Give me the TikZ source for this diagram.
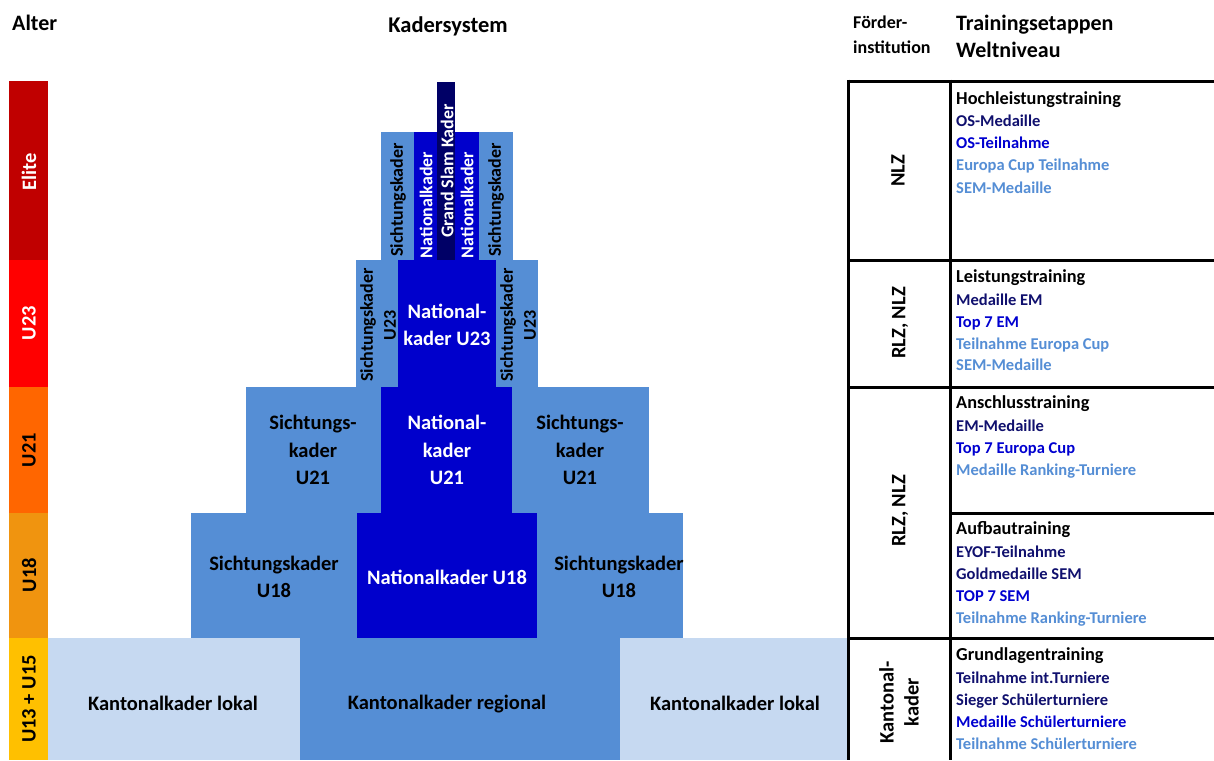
\documentclass[tikz,border=0pt]{standalone}
\usepackage{fontspec}
\setmainfont{Carlito}
\definecolor{midblue}{HTML}{558ED5}
\definecolor{natblue}{HTML}{0000CC}
\definecolor{gsnavy}{HTML}{000066}
\definecolor{lightblue}{HTML}{C6D9F1}
\definecolor{txnavy}{HTML}{10106E}
\definecolor{txblue}{HTML}{0000D0}
\definecolor{txlight}{HTML}{558ED5}
\definecolor{ageelite}{HTML}{C00000}
\definecolor{ageutt}{HTML}{FF0000}
\definecolor{ageuto}{HTML}{FF6600}
\definecolor{ageuoe}{HTML}{F0940F}
\definecolor{ageuot}{HTML}{FFC000}
\tikzset{
  pyr/.style={font=\fontsize{20.5}{27.5}\selectfont\bfseries, align=center, inner sep=0pt},
  vert/.style={font=\fontsize{18}{23}\selectfont\bfseries, rotate=90, align=center, inner sep=0pt},
  agelbl/.style={font=\fontsize{20.5}{24}\selectfont\bfseries, rotate=90, inner sep=0pt},
  hdr/.style={font=\fontsize{22}{26}\selectfont\bfseries, anchor=base west, inner sep=0pt},
  hdrsmall/.style={font=\fontsize{18}{22}\selectfont\bfseries, anchor=base west, inner sep=0pt},
  stage/.style={font=\fontsize{18.3}{22}\selectfont\bfseries, anchor=base west, inner sep=0pt},
  item/.style={font=\fontsize{16.5}{20}\selectfont\bfseries, anchor=base west, inner sep=0pt},
  inst/.style={font=\fontsize{20.5}{25}\selectfont\bfseries, rotate=90, align=center, inner sep=0pt},
  grid/.style={line width=3pt, black}
}
\begin{document}
\begin{tikzpicture}[x=1pt,y=-1pt]
\useasboundingbox (0,0) rectangle (1214,760);
\fill[white] (0,0) rectangle (1214,760);
% header
\node[hdr] (hAlter) at (12,31) {Alter};
\node[hdr, anchor=base, font=\fontsize{22.5}{26}\selectfont\bfseries] (hKader) at (448,33) {Kadersystem};
\node[hdrsmall] (hFoerder) at (853,29) {Förder-};
\node[hdrsmall] (hInst) at (853,54) {institution};
\node[hdr] (hTrain) at (956,31) {Trainingsetappen};
\node[hdr] (hWelt) at (956,58) {Weltniveau};
% age bar
\fill[ageelite] (9,81) rectangle (48,260);
\fill[ageutt] (9,260) rectangle (48,387);
\fill[ageuto] (9,387) rectangle (48,513);
\fill[ageuoe] (9,513) rectangle (48,638);
\fill[ageuot] (9,638) rectangle (48,760);
\node[agelbl, white] (aElite) at (29,172) {Elite};
\node[agelbl, white] (aU23) at (29,323) {U23};
\node[agelbl] (aU21) at (29,450) {U21};
\node[agelbl] (aU18) at (29,575) {U18};
\node[agelbl] (aU13) at (29,699) {U13 + U15};
% bottom row
\fill[lightblue] (48,638) rectangle (300,760);
\fill[midblue] (300,638) rectangle (620,760);
\fill[lightblue] (620,638) rectangle (848,760);
\node[pyr] (kLokalL) at (173,703) {Kantonalkader lokal};
\node[pyr] (kReg) at (447,704.5) {Kantonalkader regional};
\node[pyr] (kLokalR) at (735,703) {Kantonalkader lokal};
% U18 row
\fill[midblue] (191,513) rectangle (357,638);
\fill[natblue] (357,513) rectangle (537,638);
\fill[midblue] (537,513) rectangle (683,638);
\node[pyr] (s18L) at (274,577) {Sichtungskader\\U18};
\node[pyr, white] (n18) at (447,577) {Nationalkader U18};
\node[pyr] (s18R) at (619,577) {Sichtungskader\\U18};
% U21 row
\fill[midblue] (246,387) rectangle (381,513);
\fill[natblue] (381,387) rectangle (512,513);
\fill[midblue] (512,387) rectangle (649,513);
\node[pyr] (s21L) at (313,450) {Sichtungs-\\kader\\U21};
\node[pyr, white] (n21) at (447,450) {National-\\kader\\U21};
\node[pyr] (s21R) at (580,450) {Sichtungs-\\kader\\U21};
% U23 row
\fill[midblue] (356,260) rectangle (398,387);
\fill[natblue] (398,260) rectangle (496,387);
\fill[midblue] (496,260) rectangle (538,387);
\node[vert] (s23L) at (378,325) {Sichtungskader\\U23};
\node[pyr, white] (n23) at (447,325) {National-\\kader U23};
\node[vert] (s23R) at (518,325) {Sichtungskader\\U23};
% Elite row
\fill[midblue] (381,132) rectangle (414,260);
\fill[natblue] (414,132) rectangle (437,260);
\fill[gsnavy] (437,82) rectangle (455,260);
\fill[natblue] (455,132) rectangle (479,260);
\fill[midblue] (479,132) rectangle (513,260);
\node[vert] (sEL) at (398,200) {Sichtungskader};
\node[vert, white] (nEL) at (426,205) {Nationalkader};
\node[vert, white] (gs) at (447,171) {Grand Slam Kader};
\node[vert, white] (nER) at (467,205) {Nationalkader};
\node[vert] (sER) at (496,200) {Sichtungskader};
% table lines
\draw[grid] (848,81) -- (1214,81);
\draw[grid] (848,260) -- (1214,260);
\draw[grid] (848,387) -- (1214,387);
\draw[grid] (950,513) -- (1214,513);
\draw[grid] (848,638) -- (1214,638);
\draw[grid] (848,79.5) -- (848,760);
\draw[grid] (950,79.5) -- (950,760);
% institutions
\node[inst] (iNLZ) at (898,171) {NLZ};
\node[inst] (iRN1) at (900,323) {RLZ, NLZ};
\node[inst] (iRN2) at (900,511) {RLZ, NLZ};
\node[inst] (iKant) at (899,702) {Kantonal-\\kader};
% stages
\node[stage] (t1) at (956,104) {Hochleistungstraining};
\node[item, txnavy] (t1a) at (956,126) {OS-Medaille};
\node[item, txblue] (t1b) at (956,148.5) {OS-Teilnahme};
\node[item, txlight] (t1c) at (956,170.5) {Europa Cup Teilnahme};
\node[item, txlight] (t1d) at (956,193) {SEM-Medaille};
\node[stage] (t2) at (956,282) {Leistungstraining};
\node[item, txnavy] (t2a) at (956,305) {Medaille EM};
\node[item, txblue] (t2b) at (956,327) {Top 7 EM};
\node[item, txlight] (t2c) at (956,349) {Teilnahme Europa Cup};
\node[item, txlight] (t2d) at (956,370.5) {SEM-Medaille};
\node[stage] (t3) at (956,408) {Anschlusstraining};
\node[item, txnavy] (t3a) at (956,431) {EM-Medaille};
\node[item, txblue] (t3b) at (956,453) {Top 7 Europa Cup};
\node[item, txlight] (t3c) at (956,475) {Medaille Ranking-Turniere};
\node[stage] (t4) at (956,534) {Aufbautraining};
\node[item, txnavy] (t4a) at (956,557.5) {EYOF-Teilnahme};
\node[item, txnavy] (t4b) at (956,579.5) {Goldmedaille SEM};
\node[item, txblue] (t4c) at (956,601) {TOP 7 SEM};
\node[item, txlight] (t4d) at (956,623) {Teilnahme Ranking-Turniere};
\node[stage] (t5) at (956,660) {Grundlagentraining};
\node[item, txnavy] (t5a) at (956,683) {Teilnahme int.Turniere};
\node[item, txnavy] (t5b) at (956,705) {Sieger Schülerturniere};
\node[item, txblue] (t5c) at (956,727) {Medaille Schülerturniere};
\node[item, txlight] (t5d) at (956,749.5) {Teilnahme Schülerturniere};
\end{tikzpicture}
\end{document}
